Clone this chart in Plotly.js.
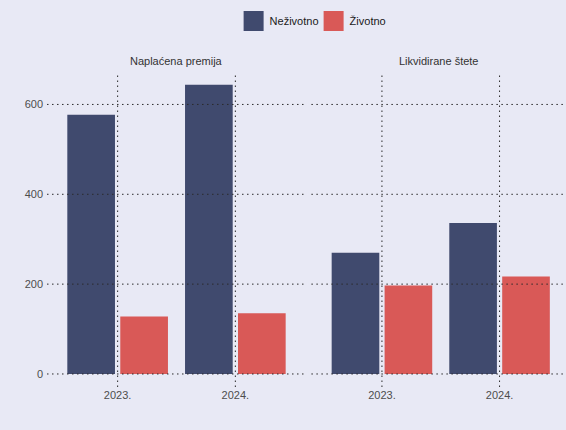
<!DOCTYPE html>
<html>
<head>
<meta charset="utf-8">
<script src="https://cdn.plot.ly/plotly-3.0.1.min.js"></script>
<style>html,body{margin:0;padding:0;background:#e8e9f5;}#chart{width:566px;height:430px;}</style>
</head>
<body>
<div id="chart"></div>
<script>
// ---- data ----
const categories = ['2023.', '2024.'];
const panels = ['Naplaćena premija', 'Likvidirane štete'];
const seriesNames = ['Neživotno', 'Životno'];
const nezivotnoPremija = [577, 644];
const zivotnoPremija = [128, 135];
const nezivotnoStete = [270, 336];
const zivotnoStete = [197, 217];
const yTicks = [0, 200, 400, 600];

// ---- styles ----
const colors = ['#404a6e', '#d95957'];
const bg = '#e8e9f5';
const gridColor = '#2a2a2a';
const font = 'Liberation Sans, Arial, sans-serif';

const panelData = [[nezivotnoPremija, zivotnoPremija], [nezivotnoStete, zivotnoStete]];
const axisIds = [['x', 'y'], ['x2', 'y2']];

const traces = [];
panelData.forEach((pair, p) => {
  pair.forEach((vals, s) => {
    traces.push({
      type: 'bar',
      x: categories,
      y: vals,
      name: seriesNames[s],
      legendgroup: seriesNames[s],
      showlegend: p === 0,
      marker: {color: colors[s], line: {width: 0}},
      xaxis: axisIds[p][0],
      yaxis: axisIds[p][1],
      hoverinfo: 'x+y+name'
    });
  });
});

const shapes = [];
const dot = {color: gridColor, width: 1, dash: '1.5px,3.5px'};
axisIds.forEach(([xa, ya]) => {
  yTicks.forEach(v => {
    shapes.push({type: 'line', layer: 'above', xref: xa + ' domain', x0: 0, x1: 1,
      yref: ya, y0: v, y1: v, line: dot});
  });
  categories.forEach((c, i) => {
    shapes.push({type: 'line', layer: 'above', xref: xa, x0: i, x1: i,
      yref: ya + ' domain', y0: 0, y1: 1, line: dot});
  });
});

const annotations = panels.map((t, p) => ({
  text: t, showarrow: false,
  xref: axisIds[p][0] + ' domain', x: 0.5, xanchor: 'center',
  yref: 'paper', y: 1, yanchor: 'bottom', yshift: 4,
  font: {family: font, size: 11, color: '#333333'}
}));

const yRange = [-29, 670];
const xCommon = {
  type: 'category', showgrid: false, zeroline: false, showline: false,
  ticks: '', tickfont: {family: font, size: 11, color: '#4d4d4d'}, fixedrange: true
};
const yCommon = {
  range: yRange, showgrid: false, zeroline: false, showline: false, ticks: '',
  tickvals: yTicks, ticktext: yTicks.map(String), ticklabelstandoff: 3,
  tickfont: {family: font, size: 11, color: '#4d4d4d'}, fixedrange: true
};

const layout = {
  width: 566, height: 430,
  paper_bgcolor: bg, plot_bgcolor: bg,
  margin: {l: 47, r: 0, t: 73, b: 43, pad: 0},
  barmode: 'group', bargap: 0.1, bargroupgap: 0.1,
  font: {family: font, size: 11, color: '#333333'},
  xaxis: Object.assign({}, xCommon, {domain: [0, 0.499], range: [-0.6, 1.6], anchor: 'y'}),
  xaxis2: Object.assign({}, xCommon, {domain: [0.5094, 1], range: [-0.6, 1.565], anchor: 'y2'}),
  yaxis: Object.assign({}, yCommon, {anchor: 'x'}),
  yaxis2: Object.assign({}, yCommon, {anchor: 'x2', showticklabels: false}),
  legend: {
    orientation: 'h', x: 0.506, xanchor: 'center', y: 1 - 21 / 430, yanchor: 'middle',
    yref: 'container', bgcolor: 'rgba(0,0,0,0)',
    entrywidth: 35, entrywidthmode: 'pixels',
    font: {family: font, size: 11, color: '#1a1a1a'}
  },
  shapes: shapes,
  annotations: annotations,
  showlegend: true
};

Plotly.newPlot('chart', traces, layout, {displayModeBar: false, staticPlot: true}).then(gd => {
  // enlarge legend keys (20px squares) to match the reference
  gd.querySelectorAll('.legend .legendpoints path').forEach(p => {
    p.setAttribute('d', 'M14,10H-6V-10H14Z');
  });
});
</script>
</body>
</html>
